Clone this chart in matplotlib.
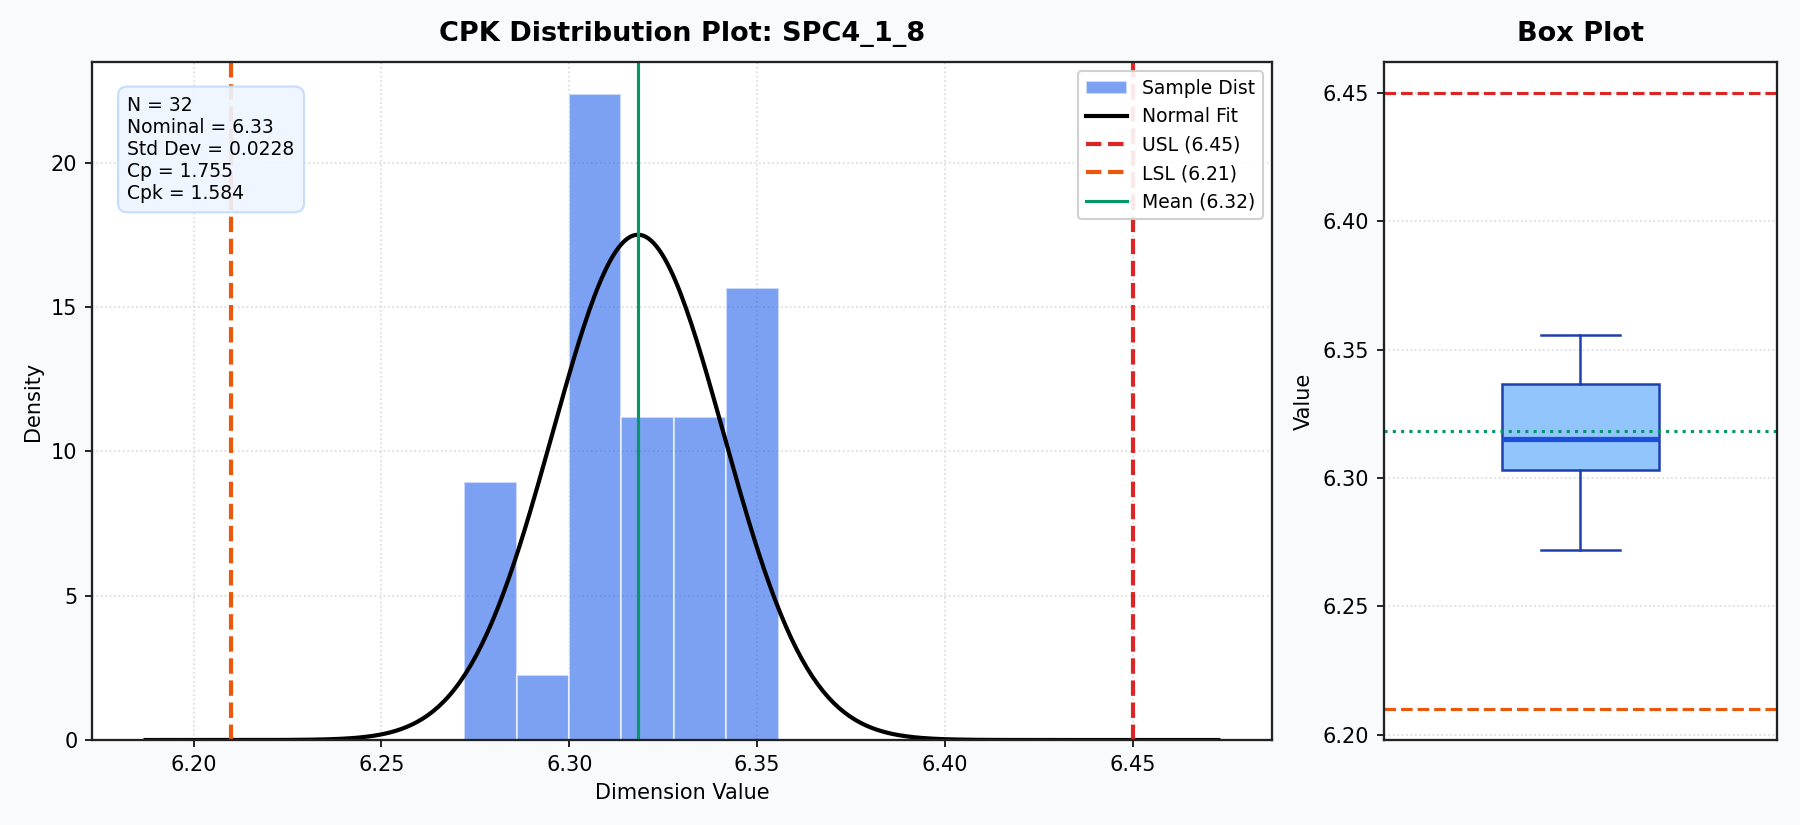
import numpy as np
import matplotlib
matplotlib.use("Agg")
import matplotlib.pyplot as plt

# ---- data ----
part_name = "SPC4_1_8"
n_samples = 32
nominal = 6.33
usl = 6.45
lsl = 6.21
mean_val = 6.3183
std_val = 0.02279

# histogram of the 32 samples (6 equal bins between min and max)
bin_edges = [6.27200, 6.28597, 6.29993, 6.31390, 6.32787, 6.34183, 6.35580]
bin_counts = [4, 1, 10, 5, 5, 7]

# box plot statistics
box_q1 = 6.3030
box_median = 6.3152
box_q3 = 6.3366
box_min = 6.2719
box_max = 6.3558

cp = (usl - lsl) / (6 * std_val)
cpk = min(usl - mean_val, mean_val - lsl) / (3 * std_val)

plt.rcParams['font.family'] = ['DejaVu Sans']

fig, (ax, ax2) = plt.subplots(1, 2, figsize=(12, 5.5), dpi=150,
                              gridspec_kw={'width_ratios': [3, 1]})
fig.patch.set_facecolor('#F8FAFC')
fig.subplots_adjust(left=0.0511, right=0.9872, top=0.9248, bottom=0.103, wspace=0.142)

# ---- distribution ----
centers = [(bin_edges[i] + bin_edges[i + 1]) / 2 for i in range(len(bin_counts))]
ax.hist(centers, bins=bin_edges, weights=bin_counts, density=True,
        color='#2563EB', alpha=0.6, edgecolor='white', linewidth=1,
        label='Sample Dist')

x = np.linspace(lsl - std_val, usl + std_val, 400)
pdf = np.exp(-0.5 * ((x - mean_val) / std_val) ** 2) / (std_val * np.sqrt(2 * np.pi))
ax.plot(x, pdf, color='black', lw=2, label='Normal Fit')

ax.axvline(usl, color='#DC2626', ls='--', lw=2, label=f'USL ({usl:.2f})')
ax.axvline(lsl, color='#EA580C', ls='--', lw=2, label=f'LSL ({lsl:.2f})')
ax.axvline(mean_val, color='#059669', ls='-', lw=1.5, label=f'Mean ({mean_val:.2f})')

ax.set_title(f'CPK Distribution Plot: {part_name}', fontsize=13, fontweight='bold', pad=10)
ax.set_xlabel('Dimension Value', fontsize=10)
ax.set_ylabel('Density', fontsize=10)
ax.grid(True, ls=':', color='#D9D9D9', lw=0.8)
ax.set_axisbelow(True)
ax.legend(loc='upper right', fontsize=9, framealpha=0.9, borderpad=0.4,
          handlelength=2.2)

stats_txt = (f'N = {n_samples}\nNominal = {nominal:.2f}\nStd Dev = {std_val:.4f}\n'
             f'Cp = {cp:.3f}\nCpk = {cpk:.3f}')
ax.text(0.03, 0.95, stats_txt, transform=ax.transAxes, va='top', ha='left',
        fontsize=9, bbox=dict(boxstyle='round,pad=0.5', facecolor='#EFF6FF',
                              edgecolor='#BFDBFE', alpha=0.9))

# ---- box plot ----
stats = [dict(med=box_median, q1=box_q1, q3=box_q3,
              whislo=box_min, whishi=box_max, fliers=[])]
ax2.bxp(stats, positions=[1], widths=0.4, patch_artist=True, showfliers=False,
        boxprops=dict(facecolor='#93C5FD', edgecolor='#1E40AF', linewidth=1.2),
        medianprops=dict(color='#1D4ED8', linewidth=2.5),
        whiskerprops=dict(color='#1E40AF', linewidth=1.2),
        capprops=dict(color='#1E40AF', linewidth=1.2))
ax2.axhline(usl, color='#DC2626', ls='--', lw=1.5)
ax2.axhline(lsl, color='#EA580C', ls='--', lw=1.5)
ax2.axhline(mean_val, color='#059669', ls=':', lw=1.5)
ax2.set_xlim(0.5, 1.5)
ax2.set_xticks([])
ax2.set_title('Box Plot', fontsize=13, fontweight='bold', pad=10)
ax2.set_ylabel('Value', fontsize=10)
ax2.grid(True, axis='y', ls=':', color='#D9D9D9', lw=0.8)
ax2.set_axisbelow(True)

for a in (ax, ax2):
    for s in a.spines.values():
        s.set_color('#222222')
        s.set_linewidth(1.1)

fig.savefig('out.png', dpi=150, facecolor=fig.get_facecolor())
